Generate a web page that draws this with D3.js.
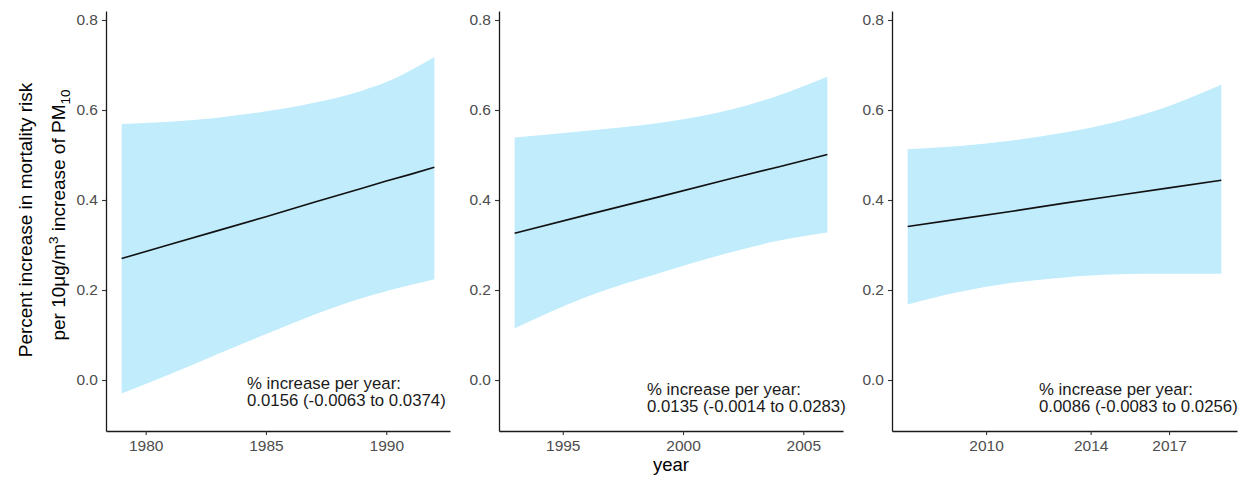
<!DOCTYPE html>
<html>
<head>
<meta charset="utf-8">
<script src="https://cdn.jsdelivr.net/npm/d3@7"></script>
<style>
    body { margin: 0; background: #fff; }
    text { font-family: "Liberation Sans", Arial, Helvetica, sans-serif; }
</style>
</head>
<body>
<svg id="chart" width="1243" height="478"></svg>
<script>
// values, one set per period
const years1 = [1979, 1981, 1983, 1985, 1987, 1989, 1990, 1991, 1992];
const fit1   = [0.270, 0.301, 0.332, 0.363, 0.395, 0.426, 0.442, 0.457, 0.473];
const upper1 = [0.569, 0.574, 0.583, 0.597, 0.616, 0.643, 0.662, 0.688, 0.718];
const lower1 = [-0.030, 0.013, 0.058, 0.102, 0.145, 0.182, 0.197, 0.211, 0.224];

const years2 = [1993, 1996, 1999, 2002, 2004, 2006];
const fit2   = [0.326, 0.367, 0.407, 0.448, 0.474, 0.501];
const upper2 = [0.539, 0.554, 0.571, 0.601, 0.633, 0.674];
const lower2 = [0.115, 0.185, 0.237, 0.284, 0.310, 0.328];

const years3 = [2007, 2009, 2011, 2013, 2015, 2017, 2019];
const fit3   = [0.341, 0.358, 0.375, 0.393, 0.410, 0.427, 0.444];
const upper3 = [0.513, 0.520, 0.532, 0.550, 0.574, 0.609, 0.656];
const lower3 = [0.168, 0.196, 0.216, 0.228, 0.235, 0.236, 0.236];

const xTicks1 = [1980, 1985, 1990];
const xTicks2 = [1995, 2000, 2005];
const xTicks3 = [2010, 2014, 2017];
const yTicks = [0.0, 0.2, 0.4, 0.6, 0.8];

const trendHeader = '% increase per year:';
const trendLabels = [
    '0.0156 (-0.0063 to 0.0374)',
    '0.0135 (-0.0014 to 0.0283)',
    '0.0086 (-0.0083 to 0.0256)'
];

const svg = d3.select('#chart');
const plotTop = 11, plotBottom = 431;

const y = d3.scaleLinear().domain([-0.1133, 0.82]).range([plotBottom, plotTop]);

const panels = [
    { years: years1, fit: fit1, upper: upper1, lower: lower1, ticks: xTicks1, label: trendLabels[0], left: 106, right: 450, labelX: 247, labelY: 389 },
    { years: years2, fit: fit2, upper: upper2, lower: lower2, ticks: xTicks2, label: trendLabels[1], left: 499, right: 843, labelX: 647, labelY: 395 },
    { years: years3, fit: fit3, upper: upper3, lower: lower3, ticks: xTicks3, label: trendLabels[2], left: 892, right: 1237, labelX: 1039, labelY: 395 }
];

function drawPanel(p) {
    const lo = d3.min(p.years), hi = d3.max(p.years);
    const pad = (hi - lo) * 0.05;
    const x = d3.scaleLinear().domain([lo - pad, hi + pad]).range([p.left, p.right]);

    const rows = p.years.map((yr, i) => ({ year: yr, fit: p.fit[i], upper: p.upper[i], lower: p.lower[i] }));

    const band = d3.area()
        .x(d => x(d.year))
        .y0(d => y(d.lower))
        .y1(d => y(d.upper))
        .curve(d3.curveMonotoneX);

    svg.append('path')
        .datum(rows)
        .attr('d', band)
        .attr('fill', '#c0ecfc');

    svg.append('path')
        .datum(rows)
        .attr('d', d3.line().x(d => x(d.year)).y(d => y(d.fit)))
        .attr('fill', 'none')
        .attr('stroke', '#111')
        .attr('stroke-width', 1.6);

    // axes
    const yAxis = svg.append('g')
        .attr('transform', `translate(${p.left},0)`)
        .call(d3.axisLeft(y).tickValues(yTicks).tickFormat(d3.format('.1f')).tickSize(4).tickSizeOuter(0).tickPadding(4));

    const xAxis = svg.append('g')
        .attr('transform', `translate(0,${plotBottom})`)
        .call(d3.axisBottom(x).tickValues(p.ticks).tickFormat(d3.format('d')).tickSize(4).tickSizeOuter(0).tickPadding(5));

    [yAxis, xAxis].forEach(ax => {
        ax.select('.domain').attr('stroke', '#1a1a1a').attr('stroke-width', 1.3);
        ax.selectAll('.tick line').attr('stroke', '#333').attr('stroke-width', 1.1);
        ax.selectAll('.tick text').attr('fill', '#4d4d4d').style('font-size', '15.5px');
    });

    // trend annotation
    const note = svg.append('text')
        .attr('x', p.labelX)
        .attr('y', p.labelY)
        .attr('fill', '#1a1a1a')
        .style('font-size', '16.8px');
    note.append('tspan').attr('x', p.labelX).text(trendHeader);
    note.append('tspan').attr('x', p.labelX).attr('dy', 17).text(p.label);
}

panels.forEach(drawPanel);

// axis titles
svg.append('text')
    .attr('x', (panels[1].left + panels[1].right) / 2)
    .attr('y', 471)
    .attr('text-anchor', 'middle')
    .attr('fill', '#000')
    .style('font-size', '18.5px')
    .text('year');

const yTitle = svg.append('g').attr('fill', '#000').style('font-size', '19px');

yTitle.append('text')
    .attr('transform', 'translate(32,220) rotate(-90)')
    .attr('text-anchor', 'middle')
    .text('Percent increase in mortality risk');

const line2 = yTitle.append('text')
    .attr('transform', 'translate(65,215) rotate(-90)')
    .attr('text-anchor', 'middle');
line2.append('tspan').text('per 10\u03bcg/m');
line2.append('tspan').attr('dy', -7).style('font-size', '13.5px').text('3');
line2.append('tspan').attr('dy', 7).text(' increase of PM');
line2.append('tspan').attr('dy', 5).style('font-size', '13.5px').text('10');
</script>
</body>
</html>
